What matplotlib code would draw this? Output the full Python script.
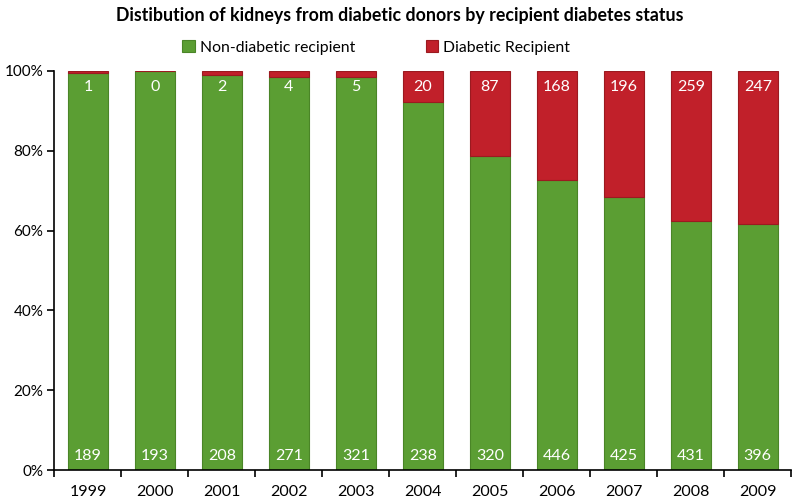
import matplotlib.pyplot as plt
import numpy as np

years = ["1999", "2000", "2001", "2002", "2003", "2004", "2005", "2006", "2007", "2008", "2009"]
non_diabetic = [189, 193, 208, 271, 321, 238, 320, 446, 425, 431, 396]
diabetic = [1, 0, 2, 4, 5, 20, 87, 168, 196, 259, 247]

plt.rcParams['font.family'] = ['Lato', 'DejaVu Sans']

nd = np.array(non_diabetic, dtype=float)
d = np.array(diabetic, dtype=float)
total = nd + d
nd_pct = nd / total * 100
d_pct = d / total * 100

green = "#5b9e33"
green_edge = "#4a8527"
red = "#c1202a"
red_edge = "#9b1a20"

fig = plt.figure(figsize=(8, 4.99), dpi=100)
ax = fig.add_axes((0.068, 0.058, 0.921, 0.800))

x = np.arange(len(years))
ax.bar(x, nd_pct, width=0.6, color=green, edgecolor=green_edge, linewidth=0.8,
       label="Non-diabetic recipient")
ax.bar(x, d_pct, width=0.6, bottom=nd_pct, color=red, edgecolor=red_edge, linewidth=0.8,
       label="Diabetic Recipient")

for i in range(len(years)):
    ax.text(x[i], 96, str(diabetic[i]), color="white", ha="center", va="center", fontsize=11.5)
    ax.text(x[i], 3.6, str(non_diabetic[i]), color="white", ha="center", va="center", fontsize=11.5)

ax.set_xlim(-0.5, len(years) - 0.5)
ax.set_ylim(0, 100)
ax.set_yticks([0, 20, 40, 60, 80, 100])
ax.set_yticklabels(["0%", "20%", "40%", "60%", "80%", "100%"], fontsize=11)
ax.set_xticks(np.arange(-0.5, len(years), 1.0))
ax.set_xticklabels([])
ax.set_xticks(x, minor=True)
ax.set_xticklabels(years, minor=True, fontsize=11.5)
ax.tick_params(axis="x", which="minor", length=0, pad=11)
ax.tick_params(axis="x", which="major", direction="out", length=5, width=1.2)
ax.tick_params(axis="y", direction="out", length=5, width=1.2, pad=3)

for s in ["top", "right"]:
    ax.spines[s].set_visible(False)
ax.spines["left"].set_linewidth(1.2)
ax.spines["bottom"].set_linewidth(1.2)

fig.text(0.5, 0.968, "Distibution of kidneys from diabetic donors by recipient diabetes status",
         ha="center", va="center", fontsize=12.8, fontweight="bold")
fig.legend(loc="center", bbox_to_anchor=(0.47, 0.905), ncol=2, frameon=False,
           fontsize=11.3, handlelength=0.8, handleheight=0.8, handletextpad=0.3,
           columnspacing=4.5)

fig.savefig("out.png", dpi=100)
